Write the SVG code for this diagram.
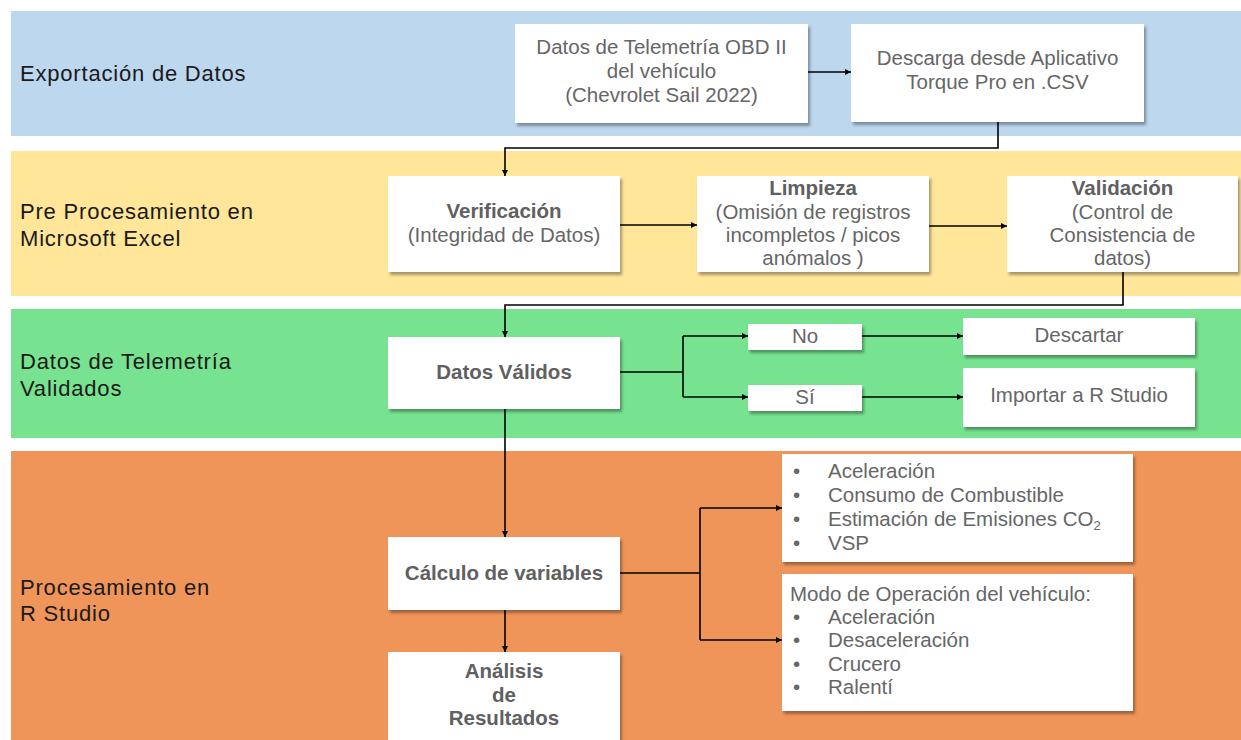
<svg xmlns="http://www.w3.org/2000/svg" width="1241" height="740" viewBox="0 0 1241 740">
<style>
.lbl{font-family:"Liberation Sans",Arial,sans-serif;font-size:22px;letter-spacing:0.8px;fill:#1a1a1a}
.box{fill:#ffffff;filter:url(#sh)}
.t{font-family:"Liberation Sans",Arial,sans-serif;font-size:20.5px;fill:#666666;text-anchor:middle}
.tl{font-family:"Liberation Sans",Arial,sans-serif;font-size:20.5px;fill:#666666}
.b{font-weight:bold;fill:#606060}
.c{fill:none;stroke:#000;stroke-width:1.6;marker-end:url(#ah)}
.cn{fill:none;stroke:#000;stroke-width:1.6}
</style>
<defs>
<filter id="sh" x="-10%" y="-10%" width="125%" height="130%">
<feDropShadow dx="2" dy="3" stdDeviation="1.5" flood-color="#000" flood-opacity="0.35"/>
</filter>
<marker id="ah" viewBox="0 0 10 10" refX="10" refY="5" markerWidth="6" markerHeight="6" markerUnits="userSpaceOnUse" orient="auto">
<path d="M0,0 L10,5 L0,10 z" fill="#000"/>
</marker>
</defs>

<g id="bands">
<rect x="11" y="11" width="1230" height="125" fill="#BDD7EE"/>
<rect x="11" y="151" width="1230" height="145" fill="#FFE699"/>
<rect x="11" y="309" width="1230" height="129" fill="#77E391"/>
<rect x="11" y="451" width="1230" height="289" fill="#F0955A"/>
<text class="lbl" x="20" y="81">Exportación de Datos</text>
<text class="lbl" x="20" y="219">Pre Procesamiento en</text>
<text class="lbl" x="20" y="246">Microsoft Excel</text>
<text class="lbl" x="20" y="369">Datos de Telemetría</text>
<text class="lbl" x="20" y="396">Validados</text>
<text class="lbl" x="20" y="595">Procesamiento en</text>
<text class="lbl" x="20" y="621">R Studio</text>
</g>

<g id="connectors">
<path class="c" d="M808,72 L851,72"/>
<path class="c" d="M998,122 L998,148 L505,148 L505,176"/>
<path class="c" d="M620,225 L697,225"/>
<path class="c" d="M929,226 L1007,226"/>
<path class="c" d="M1123,272 L1123,305 L505,305 L505,337"/>
<path class="cn" d="M620,372 L683,372 M683,336 L683,397"/>
<path class="c" d="M683,336 L748,336"/>
<path class="c" d="M683,397 L748,397"/>
<path class="c" d="M862,336 L963,336"/>
<path class="c" d="M862,397 L963,397"/>
<path class="c" d="M505,409 L505,537"/>
<path class="c" d="M505,610 L505,652"/>
<path class="cn" d="M620,573 L700,573 M700,508 L700,640"/>
<path class="c" d="M700,508 L782,508"/>
<path class="c" d="M700,640 L782,640"/>
</g>

<g id="n-obd">
<rect class="box" x="515" y="24" width="293" height="99"/>
<text class="t" x="661.5" y="54">Datos de Telemetría OBD II</text>
<text class="t" x="661.5" y="78">del vehículo</text>
<text class="t" x="661.5" y="102">(Chevrolet Sail 2022)</text>
</g>
<g id="n-descarga">
<rect class="box" x="851" y="24" width="293" height="98"/>
<text class="t" x="997.5" y="65">Descarga desde Aplicativo</text>
<text class="t" x="997.5" y="89">Torque Pro en .CSV</text>
</g>
<g id="n-verificacion">
<rect class="box" x="388" y="176" width="232" height="96"/>
<text class="t b" x="504" y="218">Verificación</text>
<text class="t" x="504" y="242">(Integridad de Datos)</text>
</g>
<g id="n-limpieza">
<rect class="box" x="697" y="176" width="232" height="96"/>
<text class="t b" x="813" y="195">Limpieza</text>
<text class="t" x="813" y="219">(Omisión de registros</text>
<text class="t" x="813" y="242">incompletos / picos</text>
<text class="t" x="813" y="265">anómalos )</text>
</g>
<g id="n-validacion">
<rect class="box" x="1007" y="176" width="231" height="96"/>
<text class="t b" x="1122.5" y="195">Validación</text>
<text class="t" x="1122.5" y="219">(Control de</text>
<text class="t" x="1122.5" y="242">Consistencia de</text>
<text class="t" x="1122.5" y="265">datos)</text>
</g>
<g id="n-validos">
<rect class="box" x="388" y="337" width="232" height="72"/>
<text class="t b" x="504" y="379">Datos Válidos</text>
</g>
<g id="n-no">
<rect class="box" x="748" y="324" width="114" height="26"/>
<text class="t" x="805" y="343">No</text>
</g>
<g id="n-si">
<rect class="box" x="748" y="385" width="114" height="26"/>
<text class="t" x="805" y="404">Sí</text>
</g>
<g id="n-descartar">
<rect class="box" x="963" y="318" width="232" height="37"/>
<text class="t" x="1079" y="342">Descartar</text>
</g>
<g id="n-importar">
<rect class="box" x="963" y="368" width="232" height="59"/>
<text class="t" x="1079" y="402">Importar a R Studio</text>
</g>
<g id="n-calculo">
<rect class="box" x="388" y="537" width="232" height="73"/>
<text class="t b" x="504" y="580">Cálculo de variables</text>
</g>
<g id="n-analisis">
<rect class="box" x="388" y="652" width="232" height="100"/>
<text class="t b" x="504" y="678">Análisis</text>
<text class="t b" x="504" y="702">de</text>
<text class="t b" x="504" y="725">Resultados</text>
</g>
<g id="n-variables">
<rect class="box" x="782" y="454" width="351" height="108"/>
<text class="tl" x="793" y="478">•</text><text class="tl" x="828" y="478">Aceleración</text>
<text class="tl" x="793" y="502">•</text><text class="tl" x="828" y="502">Consumo de Combustible</text>
<text class="tl" x="793" y="526">•</text><text class="tl" x="828" y="526">Estimación de Emisiones CO<tspan font-size="13" dy="4">2</tspan></text>
<text class="tl" x="793" y="550">•</text><text class="tl" x="828" y="550">VSP</text>
</g>
<g id="n-modo">
<rect class="box" x="782" y="574" width="351" height="137"/>
<text class="tl" x="790" y="601">Modo de Operación del vehículo:</text>
<text class="tl" x="793" y="624">•</text><text class="tl" x="828" y="624">Aceleración</text>
<text class="tl" x="793" y="647">•</text><text class="tl" x="828" y="647">Desaceleración</text>
<text class="tl" x="793" y="671">•</text><text class="tl" x="828" y="671">Crucero</text>
<text class="tl" x="793" y="694">•</text><text class="tl" x="828" y="694">Ralentí</text>
</g>
</svg>
